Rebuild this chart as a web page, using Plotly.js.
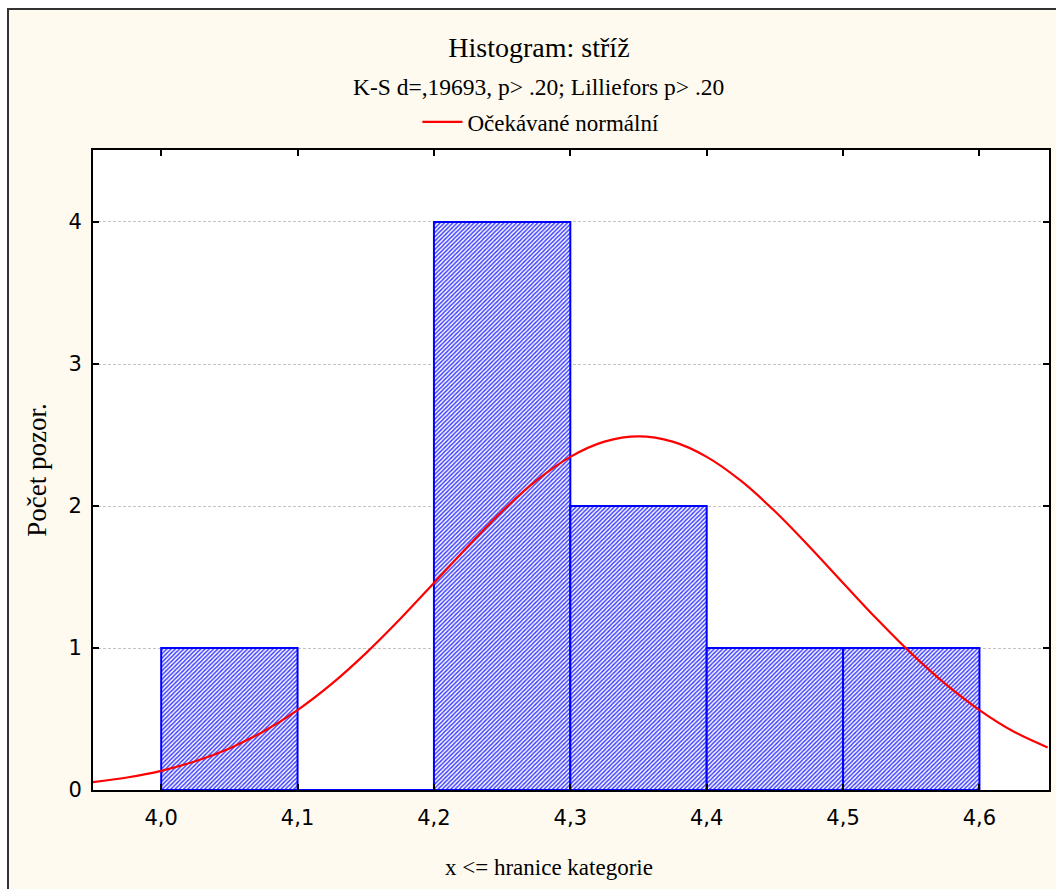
<!DOCTYPE html>
<html>
<head>
<meta charset="utf-8">
<script src="https://cdn.plot.ly/plotly-3.0.1.min.js"></script>
<style>
  html, body { margin: 0; padding: 0; background: #ffffff; }
  #frame { position: absolute; left: 7px; top: 8px; width: 1049px; height: 881px;
           border-left: 2px solid #333; border-top: 2px solid #333; box-sizing: border-box;
           background: #fefaf0; }
  #chart { width: 1047px; height: 879px; }
</style>
</head>
<body>
<div id="frame"><div id="chart"></div></div>
<script>
// Histogram bins (x <= upper bound), counts
const binStarts = [4.0, 4.1, 4.2, 4.3, 4.4, 4.5];
const binCounts = [1, 0, 4, 2, 1, 1];
const binWidth = 0.1;

// Expected normal curve
const curveX = [3.95, 3.975, 4.0, 4.025, 4.05, 4.075, 4.1, 4.125, 4.15, 4.175, 4.2, 4.225, 4.25, 4.275, 4.3, 4.325, 4.35,
                4.375, 4.4, 4.425, 4.45, 4.475, 4.5, 4.525, 4.55, 4.575, 4.6, 4.625, 4.65];
const curveY = [0.055, 0.088, 0.135, 0.202, 0.293, 0.412, 0.563, 0.747, 0.962, 1.202, 1.458, 1.717, 1.963, 2.178, 2.346, 2.453, 2.49,
                2.453, 2.346, 2.178, 1.963, 1.717, 1.458, 1.202, 0.962, 0.747, 0.563, 0.412, 0.300];

const xTicks = [4.0, 4.1, 4.2, 4.3, 4.4, 4.5, 4.6];
const xTickLabels = ["4,0", "4,1", "4,2", "4,3", "4,4", "4,5", "4,6"];
const yTicks = [0, 1, 2, 3, 4];

const titleText = "Histogram: stříž";
const subtitleText = "K-S d=,19693, p> .20; Lilliefors p> .20";
const legendText = "Očekávané normální";
const xTitle = "x <= hranice kategorie";
const yTitle = "Počet pozor.";

const serif = "Liberation Serif, Times New Roman, serif";
const sans = "DejaVu Sans, Verdana, sans-serif";

const bars = {
  type: "bar",
  x: binStarts,
  y: binCounts,
  width: binWidth,
  offset: 0,
  showlegend: false,
  hoverinfo: "x+y",
  marker: {
    color: "#ffffff",
    line: { color: "#0000ff", width: 2 },
    pattern: { shape: "/", fgcolor: "#4040ff", bgcolor: "#ffffff", size: 3, solidity: 0.5 }
  }
};

const curve = {
  type: "scatter",
  mode: "lines",
  x: curveX,
  y: curveY,
  name: legendText,
  line: { color: "#ff0000", width: 2.2, shape: "spline" }
};

const layout = {
  width: 1047,
  height: 879,
  margin: { l: 84, r: 7, t: 140, b: 99 },
  paper_bgcolor: "rgba(0,0,0,0)",
  plot_bgcolor: "#ffffff",
  bargap: 0,
  title: {
    text: titleText,
    font: { family: serif, size: 28, color: "#000" },
    xref: "paper", x: 0.4665, xanchor: "center",
    yref: "container", y: 1 - 37 / 879, yanchor: "middle"
  },
  annotations: [{
    text: subtitleText, showarrow: false,
    xref: "paper", yref: "paper", x: 0.4665, y: 1 + (140 - 77) / 640,
    xanchor: "center", yanchor: "middle",
    font: { family: serif, size: 23.5, color: "#000" }
  }, {
    text: xTitle, showarrow: false,
    xref: "paper", yref: "paper", x: 0.477, y: -0.1215,
    xanchor: "center", yanchor: "middle",
    font: { family: serif, size: 23, color: "#000" }
  }],
  showlegend: true,
  legend: {
    orientation: "h",
    xref: "paper", yref: "paper",
    x: 0.4685, xanchor: "center",
    y: 1 + (140 - 112) / 640, yanchor: "middle",
    bgcolor: "rgba(0,0,0,0)",
    font: { family: serif, size: 23, color: "#000" },
    itemwidth: 40
  },
  xaxis: {
    range: [3.95, 4.651],
    tickvals: xTicks,
    ticktext: xTickLabels,
    ticks: "inside", ticklen: 6, tickwidth: 2, tickcolor: "#000",
    showline: true, linecolor: "#000", linewidth: 2, mirror: "ticks",
    showgrid: false, zeroline: false,
    tickfont: { family: sans, size: 21, color: "#000" },
    ticklabelstandoff: 8
  },
  yaxis: {
    range: [0, 4.507],
    tickvals: yTicks,
    ticks: "inside", ticklen: 6, tickwidth: 2, tickcolor: "#000",
    showline: true, linecolor: "#000", linewidth: 2, mirror: "ticks",
    showgrid: true, gridcolor: "#c4c4c4", griddash: "3px,2px", gridwidth: 1,
    zeroline: false,
    tickfont: { family: sans, size: 21, color: "#000" },
    ticklabelstandoff: 5,
    title: { text: yTitle, font: { family: serif, size: 27, color: "#000" }, standoff: 14 }
  }
};

Plotly.newPlot("chart", [bars, curve], layout, { displayModeBar: false, staticPlot: true });
</script>
</body>
</html>
